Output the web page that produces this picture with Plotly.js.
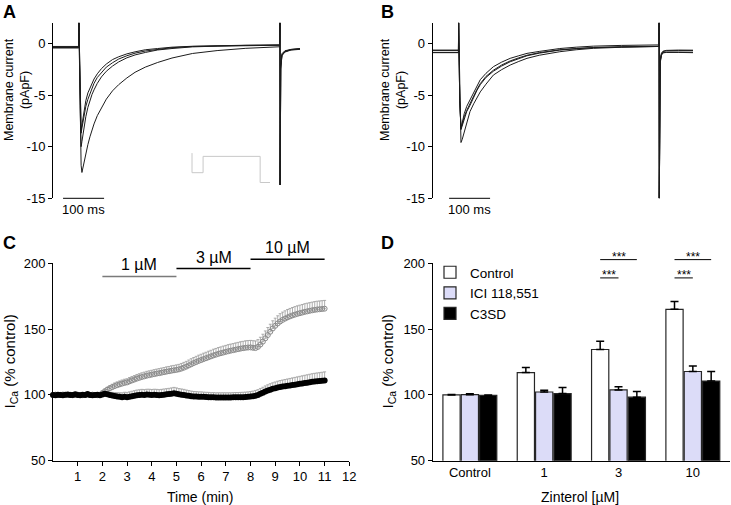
<!DOCTYPE html>
<html><head><meta charset="utf-8">
<script src="https://cdn.plot.ly/plotly-3.0.1.min.js"></script>
<style>html,body{margin:0;padding:0;background:#fff}#chart{width:731px;height:505px}</style>
</head><body><div id="chart"></div><script>
// ---------------- DATA ----------------
// Panel A: whole-cell current traces (pA/pF) vs time (ms)
const aTime = [0, 40, 62.8, 63.2, 66, 68.5, 70.5, 75, 80, 85, 90, 95, 100, 108, 118, 130, 145, 160, 180, 200, 225, 255, 290, 340, 400, 470, 552, 553.2, 553.7, 555, 558, 565, 580, 602];
const aTrace1 = [-0.3, -0.32, -0.3, 2, -5, -8.4, -7.9, -6.6, -5.55, -4.8, -4.3, -3.82, -3.45, -2.95, -2.45, -2.0, -1.57, -1.3, -1.02, -0.82, -0.62, -0.5, -0.37, -0.28, -0.22, -0.18, -0.15, 2, -13.7, -2, -1.0, -0.72, -0.58, -0.5];
const aTrace2 = [-0.4, -0.38, -0.4, 2, -5.2, -8.7, -8.2, -7.1, -6.1, -5.42, -4.85, -4.35, -3.87, -3.3, -2.8, -2.3, -1.88, -1.52, -1.2, -0.95, -0.74, -0.56, -0.42, -0.3, -0.24, -0.2, -0.17, 2, -13.7, -2.2, -1.1, -0.78, -0.6, -0.52];
const aTrace3 = [-0.35, -0.4, -0.35, 2, -6, -10.0, -9.5, -8.2, -7.1, -6.2, -5.5, -4.95, -4.5, -3.87, -3.25, -2.7, -2.2, -1.8, -1.4, -1.12, -0.88, -0.64, -0.5, -0.34, -0.27, -0.22, -0.18, 2, -13.7, -2.4, -1.15, -0.8, -0.62, -0.55];
const aTrace4 = [-0.45, -0.42, -0.45, 2, -7, -11.8, -12.5, -11.6, -10.7, -9.8, -9.05, -8.4, -7.8, -7.0, -6.2, -5.4, -4.6, -4.0, -3.35, -2.8, -2.3, -1.85, -1.42, -0.98, -0.7, -0.48, -0.33, 2, -13.7, -2.5, -1.2, -0.85, -0.65, -0.58];
// Panel A inset: voltage protocol (schematic)
const protoTime = [0, 0, 27, 27, 166, 166, 190];
const protoVolt = [10, -50, -50, 0, 0, -80, -80];
// Panel B
const bTime = [0, 40, 62.8, 63.2, 66, 69, 72, 77, 83, 91, 100, 108, 116, 130, 148, 168, 189, 210, 230, 260, 310, 350, 392, 460, 552, 552.4, 552.8, 555, 558, 562, 570, 600, 635];
const bTrace1 = [-0.65, -0.62, -0.65, 2, -5.5, -8.23, -7.6, -6.8, -6.1, -5.49, -4.7, -4.05, -3.52, -2.9, -2.26, -1.82, -1.45, -1.2, -0.97, -0.78, -0.5, -0.37, -0.27, -0.2, -0.15, 2, -15, -1.6, -0.95, -0.75, -0.68, -0.65, -0.66];
const bTrace2 = [-0.9, -0.88, -0.9, 2, -5.5, -8.25, -7.8, -7.1, -6.5, -5.9, -5.1, -4.45, -3.9, -3.2, -2.6, -2.1, -1.7, -1.4, -1.15, -0.9, -0.62, -0.5, -0.4, -0.33, -0.28, 2, -15, -1.8, -1.1, -0.9, -0.85, -0.85, -0.86];
const bTrace3 = [-0.7, -0.72, -0.7, 2, -5.6, -8.35, -7.95, -7.25, -6.6, -6.0, -5.2, -4.55, -4.0, -3.3, -2.7, -2.2, -1.78, -1.47, -1.2, -0.95, -0.65, -0.52, -0.42, -0.35, -0.3, 2, -15, -1.7, -1.0, -0.8, -0.72, -0.7, -0.7];
const bTrace4 = [-0.88, -0.9, -0.88, 2, -6, -9.6, -9.3, -8.6, -7.5, -6.6, -5.85, -5.27, -4.7, -3.95, -3.07, -2.55, -2.1, -1.75, -1.45, -1.15, -0.81, -0.62, -0.48, -0.38, -0.3, 2, -15, -1.9, -1.15, -0.92, -0.88, -0.88, -0.9];
const currentTicks = [0, -5, -10, -15];
const scaleBarMs = 100;
// Panel C: time course (min) of I_Ca (% control)
const cTime = [0,0.1,0.2,0.3,0.4,0.5,0.6,0.7,0.8,0.9,1,1.1,1.2,1.3,1.4,1.5,1.6,1.7,1.8,1.9,2,2.1,2.2,2.3,2.4,2.5,2.6,2.7,2.8,2.9,3,3.1,3.2,3.3,3.4,3.5,3.6,3.7,3.8,3.9,4,4.1,4.2,4.3,4.4,4.5,4.6,4.7,4.8,4.9,5,5.1,5.2,5.3,5.4,5.5,5.6,5.7,5.8,5.9,6,6.1,6.2,6.3,6.4,6.5,6.6,6.7,6.8,6.9,7,7.1,7.2,7.3,7.4,7.5,7.6,7.7,7.8,7.9,8,8.1,8.2,8.3,8.4,8.5,8.6,8.7,8.8,8.9,9,9.1,9.2,9.3,9.4,9.5,9.6,9.7,9.8,9.9,10,10.1,10.2,10.3,10.4,10.5,10.6,10.7,10.8,10.9,11];
const cOpen = [100,100.2,99.8,100,100.3,99.9,100,100.1,99.7,100,100.2,100,99.8,100.1,100,99.9,100.2,100,99.8,100,
 101.5,102.8,104,105,105.9,106.7,107.4,108,108.6,109.1,
 109.5,110.3,111,111.7,112.4,113,113.6,114.1,114.6,115,
 115.4,115.8,116.2,116.5,116.9,117.3,117.7,118,118.4,118.7,
 119,119.4,120,120.7,121.5,122.4,123.3,124.2,125,125.8,
 126.5,127.2,127.9,128.6,129.3,130,130.6,131.2,131.7,132.2,
 132.7,133.2,133.6,134,134.4,134.8,135.2,135.5,135.8,136,
 136.1,135.8,135.6,136.5,138.3,140.5,143,145.5,148,150.5,
 152.5,154.3,155.8,157,158,158.9,159.7,160.4,161,161.6,
 162.1,162.6,163.1,163.5,163.9,164.3,164.6,164.9,165.1,165.3,
 165.5];
const cOpenErr = [0.6,0.5,0.7,0.5,0.6,0.5,0.6,0.7,0.5,0.6,0.5,0.6,0.5,0.7,0.6,0.5,0.6,0.5,0.6,0.7,
 1.2,1.5,1.8,2,2.2,2.4,2.5,2.6,2.7,2.8,
 2.8,2.9,3,3,3.1,3.1,3.2,3.2,3.3,3.3,
 3.3,3.4,3.4,3.5,3.5,3.5,3.6,3.6,3.7,3.7,
 3.8,3.8,3.9,4,4,4.1,4.2,4.2,4.3,4.4,
 4.4,4.5,4.5,4.6,4.6,4.7,4.7,4.8,4.8,4.9,
 4.9,5,5,5,5.1,5.1,5.2,5.2,5.3,5.3,
 5.3,5.4,5.4,5.5,5.5,5.6,5.6,5.7,5.7,5.8,
 5.8,5.8,5.9,5.9,5.9,6,6,6,6.1,6.1,
 6.1,6.1,6.2,6.2,6.2,6.2,6.3,6.3,6.3,6.3,
 6.3];
const cFilled = [100,99.8,100.2,100,99.7,100.1,100.3,99.9,100,100.4,100,99.8,100.2,100,100.6,100,99.7,100,100.2,99.8,
 100.3,100.8,100.4,100,99.6,99.2,98.8,98.5,98.3,98.5,
 98.3,98.6,99,99.4,99.8,100,100.2,100,100.3,100.2,
 100,100.2,100,99.8,100,100.2,100.4,100.6,100.9,101.2,
 100.8,100.4,100.2,100,99.6,99.3,99,98.8,98.7,98.6,
 98.6,98.5,98.4,98.3,98.2,98.2,98.1,98.1,98.1,98.1,
 98.1,98.1,98.1,98.2,98.2,98.2,98.3,98.3,98.4,98.5,
 98.7,99,99.4,100,100.8,101.6,102.5,103.3,104,104.6,
 105.1,105.6,106,106.3,106.6,106.9,107.2,107.5,107.8,108.1,
 108.4,108.7,109,109.3,109.6,109.9,110.2,110.4,110.6,110.8,
 111];
const cFilledErr = [0.6,0.5,0.6,0.7,0.5,0.6,0.5,0.6,0.7,0.5,0.6,0.5,0.6,0.5,0.7,0.6,0.5,0.6,0.5,0.6,
 1,1.3,1.6,2,2.3,2.6,2.9,3.1,3.3,3.5,
 3.6,3.7,3.8,3.8,3.9,3.9,4,4,4,4.1,
 4.1,4.1,4.2,4.2,4.2,4.3,4.3,4.4,4.4,4.5,
 4.5,4.4,4.3,4.2,4.1,4,3.9,3.8,3.8,3.7,
 3.7,3.6,3.6,3.6,3.5,3.5,3.5,3.5,3.5,3.5,
 3.5,3.5,3.5,3.5,3.6,3.6,3.6,3.7,3.7,3.8,
 3.8,3.9,4,4,4.1,4.2,4.3,4.4,4.5,4.6,
 4.7,4.8,4.9,5,5.1,5.2,5.3,5.4,5.5,5.6,
 5.7,5.8,5.9,6,6.1,6.2,6.2,6.3,6.3,6.4,
 6.5];
const cTicksX = [1,2,3,4,5,6,7,8,9,10,11,12];
const pctTicks = [50, 100, 150, 200];
const concLabels = ['1 µM', '3 µM', '10 µM'];
const concStart = [2, 5, 8];
const concEnd = [5, 8, 11];
// Panel D: mean responses
const dCats = ['Control', '1', '3', '10'];
const dSeries = ['Control', 'ICI 118,551', 'C3SD'];
const dControl = [100, 117, 134.5, 165];
const dControlErr = [0.3, 3.8, 6.3, 5.9];
const dICI = [100.2, 102.2, 103.8, 117.8];
const dICIErr = [0.6, 1.3, 2.3, 4.2];
const dC3SD = [99.6, 101, 98.3, 110.5];
const dC3SDErr = [0.3, 4.6, 4.3, 7.2];
const sigGroup = ['3', '3', '10', '10'];
const sigVersus = ['ICI 118,551', 'C3SD', 'ICI 118,551', 'C3SD'];
const sigText = ['***', '***', '***', '***'];

// ---------------- LAYOUT HELPERS ----------------
const W = 731, H = 505;
const FONT = 'Liberation Sans, Arial, Helvetica, sans-serif';
function dX(px){ return [px[0]/W, px[1]/W]; }
function dY(py){ return [1 - py[1]/H, 1 - py[0]/H]; }
function extY(r, py, np){ const k=(r[1]-r[0])/(py[1]-py[0]); return [r[0]-(np[1]-py[1])*k, r[1]+(py[0]-np[0])*k]; }
function extX(r, px, np){ const k=(r[1]-r[0])/(px[1]-px[0]); return [r[0]-(px[0]-np[0])*k, r[1]+(np[1]-px[1])*k]; }
const G = {
  A:{x:[53,300], y:[22.7,198.3], xr:[0,602], yr:[-15,2]},
  B:{x:[432.7,693], y:[22.7,198.3], xr:[0,635], yr:[-15,2]},
  C:{x:[53,349.3], y:[263.3,460.7], xr:[0,12], yr:[50,200]},
  D:{x:[432.7,730], y:[263.3,460.7], xr:[-0.5,3.5], yr:[50,200]}
};
const tickFont = {family: FONT, size: 13, color: '#000'};
function yAx(g, anchor, ticks){
  return {domain: dY(g.y), range: g.yr, anchor: anchor, showline: true, linecolor: '#000', linewidth: 1,
    ticks: 'outside', ticklen: 4, tickwidth: 1, tickcolor: '#000', tickvals: ticks, ticktext: ticks.map(String),
    showgrid: false, zeroline: false, tickfont: tickFont, fixedrange: true};
}
function hidden(domain, range, anchor){
  return {domain: domain, range: range, anchor: anchor, visible: false, fixedrange: true};
}
const traceLine = {color: '#1c1c1c', width: 1};
const traces = [];
[aTrace1, aTrace2, aTrace3, aTrace4].forEach(v => traces.push({type:'scatter', mode:'lines', x:aTime, y:v, xaxis:'x', yaxis:'y', line:traceLine, showlegend:false}));
[bTrace1, bTrace2, bTrace3, bTrace4].forEach(v => traces.push({type:'scatter', mode:'lines', x:bTime, y:v, xaxis:'x2', yaxis:'y2', line:traceLine, showlegend:false}));

// overlay axes (unclipped drawing space over panels)
const ovA = [5, 225], ovC = [225, 470];
const yA5 = extY(G.A.yr, G.A.y, ovA), yC7 = extY(G.C.yr, G.C.y, ovC);
// scale bars
const barStartA = 24.5, barStartB = 40;
traces.push({type:'scatter', mode:'lines', x:[barStartA, barStartA+scaleBarMs], y:[-15,-15], xaxis:'x5', yaxis:'y5', line:{color:'#000', width:1}, showlegend:false});
traces.push({type:'scatter', mode:'lines', x:[barStartB, barStartB+scaleBarMs], y:[-15,-15], xaxis:'x6', yaxis:'y6', line:{color:'#000', width:1}, showlegend:false});
// protocol inset
const protoPx = {x:[187, 275], y:[148, 188]};
traces.push({type:'scatter', mode:'lines', x:protoTime, y:protoVolt, xaxis:'x9', yaxis:'y9', line:{color:'#c8c8c8', width:1}, showlegend:false});

// Panel C
const zeros = n => new Array(n).fill(0);
traces.push({type:'scatter', mode:'markers', x:cTime, y:cOpen, xaxis:'x3', yaxis:'y3', cliponaxis:false,
  marker:{symbol:'circle-open', size:5, color:'#8a8a8a', line:{width:1, color:'#8a8a8a'}},
  error_y:{type:'data', symmetric:false, array:cOpenErr, arrayminus:zeros(cOpenErr.length), color:'#9a9a9a', thickness:0.8, width:1.5},
  showlegend:false});
traces.push({type:'scatter', mode:'markers', x:cTime, y:cFilled, xaxis:'x3', yaxis:'y3', cliponaxis:false,
  marker:{symbol:'circle', size:6, color:'#000'},
  error_y:{type:'data', symmetric:false, array:cFilledErr, arrayminus:zeros(cFilledErr.length), color:'#9a9a9a', thickness:0.8, width:1.5},
  showlegend:false});
const concLevelsY = [190, 196, 203];
const concColors = ['#7a7a7a', '#000', '#000'];
concLabels.forEach((lab, i) => {
  traces.push({type:'scatter', mode:'lines', x:[concStart[i], concEnd[i]], y:[concLevelsY[i], concLevelsY[i]], xaxis:'x7', yaxis:'y7', line:{color:concColors[i], width:1.5}, showlegend:false});
});

// Panel D bars
const dFill = ['#ffffff', '#dcdcf8', '#000000'];
[[dControl, dControlErr], [dICI, dICIErr], [dC3SD, dC3SDErr]].forEach((s, i) => {
  traces.push({type:'bar', name:dSeries[i], x:dCats, y:s[0], xaxis:'x4', yaxis:'y4',
    marker:{color:dFill[i], line:{color:'#262626', width:1.2}},
    error_y:{type:'data', symmetric:false, array:s[1], arrayminus:zeros(s[1].length), color:'#000', thickness:1.5, width:4},
    showlegend:true});
});
// significance brackets
const nS = dSeries.length, slot = (1 - 0.26) / nS;
const sigLevels = [188.9, 202.8, 188.9, 202.8];
const sigX = [], sigY = [];
const annotations = [];
sigGroup.forEach((g, i) => {
  const c = dCats.indexOf(g);
  const x0 = c + (0 - (nS-1)/2) * slot;
  const x1 = c + (dSeries.indexOf(sigVersus[i]) - (nS-1)/2) * slot;
  sigX.push(x0, x1, null); sigY.push(sigLevels[i], sigLevels[i], null);
  annotations.push({xref:'x8', yref:'y8', x:(x0+x1)/2, y:sigLevels[i], text:sigText[i], showarrow:false,
    xanchor:'center', yanchor:'middle', yshift:3, font:{family:FONT, size:12, color:'#000'}});
});
traces.push({type:'scatter', mode:'lines', x:sigX, y:sigY, xaxis:'x8', yaxis:'y8', line:{color:'#000', width:1}, showlegend:false, connectgaps:false});

// annotations: conc labels
concLabels.forEach((lab, i) => {
  annotations.push({xref:'x7', yref:'y7', x:(concStart[i]+concEnd[i])/2, y:concLevelsY[i], text:lab, showarrow:false,
    xanchor:'center', yanchor:'bottom', yshift:1, font:{family:FONT, size:16, color:'#000'}});
});
// scale bar labels
annotations.push({xref:'x5', yref:'y5', x:barStartA+scaleBarMs/2, y:-15, text:scaleBarMs+' ms', showarrow:false, xanchor:'center', yanchor:'top', yshift:-2, font:{family:FONT, size:13, color:'#000'}});
annotations.push({xref:'x6', yref:'y6', x:barStartB+scaleBarMs/2, y:-15, text:scaleBarMs+' ms', showarrow:false, xanchor:'center', yanchor:'top', yshift:-2, font:{family:FONT, size:13, color:'#000'}});
// titles
function pAnn(px, py, text, opts){
  return Object.assign({xref:'paper', yref:'paper', x:px/W, y:1-py/H, text:text, showarrow:false, xanchor:'center', yanchor:'middle', font:{family:FONT, size:12.5, color:'#000'}}, opts||{});
}
annotations.push(pAnn(17, 90, 'Membrane current<br>(pApF)', {textangle:-90}));
annotations.push(pAnn(393, 90, 'Membrane current<br>(pApF)', {textangle:-90}));
const yTitleFont = {family:FONT, size:15, color:'#000'};
annotations.push(pAnn(10, 361.5, 'I<sub>Ca</sub> (% control)', {textangle:-90, font:yTitleFont}));
annotations.push(pAnn(388, 361.5, 'I<sub>Ca</sub> (% control)', {textangle:-90, font:yTitleFont}));
annotations.push(pAnn(200, 497, 'Time (min)', {font:{family:FONT, size:14, color:'#000'}}));
annotations.push(pAnn(580, 497, 'Zinterol [µM]', {font:{family:FONT, size:14, color:'#000'}}));
const bold = {family:FONT, size:18, color:'#000', weight:'bold'};
annotations.push(pAnn(9, 11.5, 'A', {font:bold}));
annotations.push(pAnn(387.5, 11.5, 'B', {font:bold}));
annotations.push(pAnn(9, 243, 'C', {font:bold}));
annotations.push(pAnn(387.5, 243, 'D', {font:bold}));

const layout = {
  width: W, height: H, margin:{l:0, r:0, t:0, b:0, pad:0},
  paper_bgcolor:'#fff', plot_bgcolor:'rgba(0,0,0,0)',
  font:{family:FONT, size:13, color:'#000'},
  hovermode:false, barmode:'group', bargap:0.26, bargroupgap:0.06,
  xaxis: hidden(dX(G.A.x), G.A.xr, 'y'),
  yaxis: yAx(G.A, 'x', currentTicks),
  xaxis2: hidden(dX(G.B.x), G.B.xr, 'y2'),
  yaxis2: yAx(G.B, 'x2', currentTicks),
  xaxis3: {domain:dX(G.C.x), range:G.C.xr, anchor:'y3', showline:true, linecolor:'#000', linewidth:1, ticks:'outside', ticklen:4, tickcolor:'#000',
    tickvals:cTicksX, ticktext:cTicksX.map(String), showgrid:false, zeroline:false, tickfont:tickFont, fixedrange:true},
  yaxis3: yAx(G.C, 'x3', pctTicks),
  xaxis4: {domain:dX(G.D.x), range:G.D.xr, type:'category', categoryorder:'array', categoryarray:dCats, anchor:'y4', showline:true, linecolor:'#000', linewidth:1,
    ticks:'', showgrid:false, zeroline:false, tickfont:tickFont, fixedrange:true},
  yaxis4: yAx(G.D, 'x4', pctTicks),
  xaxis5: hidden(dX(G.A.x), G.A.xr, 'y5'),
  yaxis5: hidden(dY(ovA), yA5, 'x5'),
  xaxis6: hidden(dX(G.B.x), G.B.xr, 'y6'),
  yaxis6: hidden(dY(ovA), yA5, 'x6'),
  xaxis7: hidden(dX(G.C.x), G.C.xr, 'y7'),
  yaxis7: hidden(dY(ovC), yC7, 'x7'),
  xaxis8: hidden(dX(G.D.x), G.D.xr, 'y8'),
  yaxis8: hidden(dY(ovC), yC7, 'x8'),
  xaxis9: hidden(dX(protoPx.x), extX([0,190], [192,270], protoPx.x), 'y9'),
  yaxis9: hidden(dY(protoPx.y), extY([-80,10], [153.1,182.5], protoPx.y), 'x9'),
  showlegend:true,
  legend:{x:430/W, y:1-257/H, xanchor:'left', yanchor:'top', bgcolor:'rgba(0,0,0,0)', borderwidth:0,
    font:{family:FONT, size:13.5, color:'#000'}, tracegroupgap:0, itemclick:false, itemdoubleclick:false},
  annotations: annotations
};
Plotly.newPlot('chart', traces, layout, {staticPlot:true, displayModeBar:false});
</script></body></html>
